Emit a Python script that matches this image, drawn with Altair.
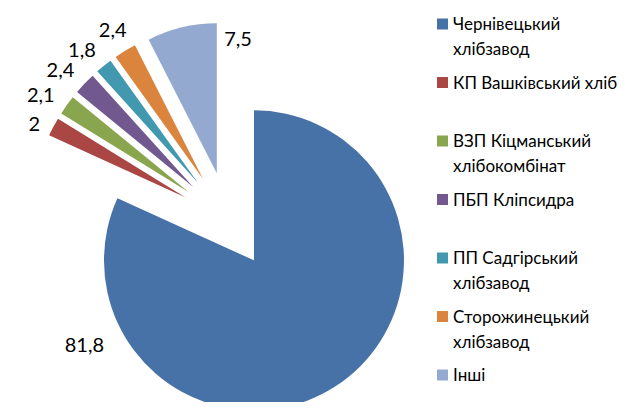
import altair as alt
import pandas as pd

# ---- data ----
NAMES = [
    "Чернівецький\nхлібзавод",
    "КП Вашківський хліб",
    "ВЗП Кіцманський\nхлібокомбінат",
    "ПБП Кліпсидра",
    "ПП Садгірський\nхлібзавод",
    "Сторожинецький\nхлібзавод",
    "Інші",
]
VALUES = [81.8, 2.0, 2.1, 2.4, 1.8, 2.4, 7.5]
COLORS = ["#4672A7", "#AA4643", "#89A54E", "#71588F", "#4198AF", "#DB843D", "#93A9CF"]

# label placement nudges (degrees of rotation from the slice bisector, radius in px; 0 = automatic)
LABEL_SHIFT = [81.5, -2, -2, -2, -2, 0, 16.7]
LABEL_RADIUS = [191, 0, 0, 0, 0, 0, 180]

df = pd.DataFrame({
    "name": NAMES,
    "value": VALUES,
    "order": list(range(len(VALUES))),
    "color": COLORS,
    "lshift": LABEL_SHIFT,
    "lrad": LABEL_RADIUS,
})

CX, CY = 220, 212      # pie centre (plot pixels)
D = 48                 # explosion distance
R = 150                # pie radius
G = 10                 # label gap

base = (
    alt.Chart(df)
    .transform_window(cum="sum(value)", sort=[alt.SortField("order")], frame=[None, 0])
    .transform_joinaggregate(total="sum(value)")
    .transform_calculate(
        t0="2*PI*(datum.cum - datum.value)/datum.total",
        t1="2*PI*datum.cum/datum.total",
    )
    .transform_calculate(mid="(datum.t0 + datum.t1)/2")
    .transform_calculate(
        px=f"{CX} + {D}*sin(datum.mid)",
        py=f"{CY} - {D}*cos(datum.mid)",
        lab="replace(toString(datum.value), '.', ',')",
        lang="datum.mid + datum.lshift*PI/180",
    )
    .transform_calculate(
        lr=f"datum.lrad > 0 ? datum.lrad : {D}+{R}+{G} + length(datum.lab)*5*abs(sin(datum.lang)) + 7*abs(cos(datum.lang))"
    )
    .transform_calculate(
        lx=f"{CX} + datum.lr*sin(datum.lang)",
        ly=f"{CY} - datum.lr*cos(datum.lang)",
    )
)

arcs = base.mark_arc(radius=R).encode(
    x=alt.X("px:Q", scale=None, axis=None),
    y=alt.Y("py:Q", scale=None, axis=None),
    theta=alt.Theta("t0:Q", scale=None, stack=None),
    theta2="t1:Q",
    color=alt.Color("color:N", scale=None),
)

labels = base.mark_text(font="Lato", fontSize=20, color="#000000", align="center", baseline="middle").encode(
    x=alt.X("lx:Q", scale=None, axis=None),
    y=alt.Y("ly:Q", scale=None, axis=None),
    text="lab:N",
)

LEG_X, LEG_Y0, LEG_STEP = 434.5, 16, 58.5
leg = alt.Chart(df).transform_calculate(
    ly=f"{LEG_Y0} + {LEG_STEP}*datum.order",
    ty=f"{LEG_Y0} + {LEG_STEP}*datum.order + 6",
)
leg_sq = leg.mark_square(size=121, opacity=1).encode(
    x=alt.value(LEG_X),
    y=alt.Y("ly:Q", scale=None, axis=None),
    color=alt.Color("color:N", scale=None),
)
leg_txt = leg.mark_text(
    font="Lato", fontSize=17, color="#000000", align="left", baseline="alphabetic",
    lineBreak="\n", lineHeight=25,
).encode(
    x=alt.value(LEG_X + 10.5),
    y=alt.Y("ty:Q", scale=None, axis=None),
    text="name:N",
)

chart = alt.layer(arcs, labels, leg_sq, leg_txt).properties(
    width=614, height=394, padding=0, autosize="none"
).configure_view(stroke=None)

chart.save("out.html", embed_options={"renderer": "svg", "actions": False})
